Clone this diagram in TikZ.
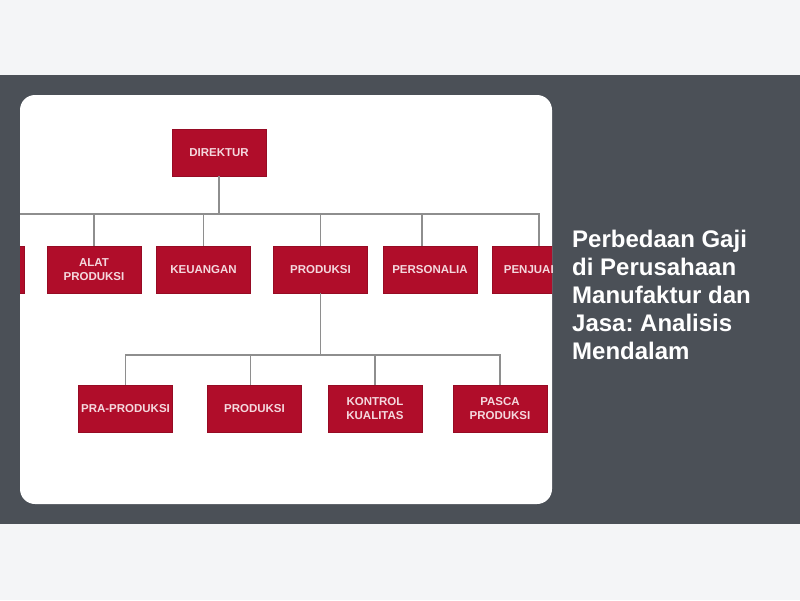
\documentclass[tikz,border=0pt]{standalone}
\usepackage{fontspec}
\setmainfont{Liberation Sans}
\usetikzlibrary{positioning}
\definecolor{pagebg}{HTML}{F4F5F7}
\definecolor{bandbg}{HTML}{4B5057}
\definecolor{boxred}{HTML}{B00D2A}
\definecolor{boxtext}{HTML}{F4D8DE}
\definecolor{linegray}{HTML}{8E8E8E}
\tikzstyle{redblock}=[rectangle, draw=boxred!85!black, fill=boxred, text=boxtext, align=center, inner sep=0pt, minimum width=94pt, minimum height=47pt, font=\fontsize{11.5}{14}\selectfont\bfseries]
\tikzstyle{orgline}=[draw=linegray, line width=1.4pt]
\tikzstyle{titletext}=[text=white, align=left, inner sep=0pt, font=\fontsize{24}{28}\selectfont\bfseries]

\begin{document}
\frenchspacing
\begin{tikzpicture}[x=1pt, y=-1pt]

\useasboundingbox (0,0) rectangle (800,600);
\fill[pagebg] (0,0) rectangle (800,600);
\fill[bandbg] (0,75) rectangle (800,524);
\fill[white, rounded corners=15pt] (20,95) rectangle (552,504);

\begin{scope}
\clip[rounded corners=15pt] (20,95) rectangle (552,504);

\node[redblock] (dir) at (219,152.5) {DIREKTUR};
\node[redblock] (cut) at (-23,269.5) {};
\node[redblock] (alat) at (94,269.5) {ALAT\\PRODUKSI};
\node[redblock] (keu) at (203.5,269.5) {KEUANGAN};
\node[redblock] (prod) at (320.5,269.5) {PRODUKSI};
\node[redblock] (pers) at (430,269.5) {PERSONALIA};
\node[redblock] (jual) at (539,269.5) {PENJUALAN};

\node[redblock] (pra) at (125.5,408.5) {PRA-PRODUKSI};
\node[redblock] (prod2) at (254.5,408.5) {PRODUKSI};
\node[redblock] (kontrol) at (375,408.5) {KONTROL\\KUALITAS};
\node[redblock] (pasca) at (500,408.5) {PASCA\\PRODUKSI};

\coordinate (bus1) at (219,214);
\coordinate (bus2) at (320.5,355);

\draw[orgline] (dir.south) -- (bus1);
\draw[orgline] (cut.north) |- (bus1);
\draw[orgline] (alat.north) |- (bus1);
\draw[orgline] (keu.north) |- (bus1);
\draw[orgline] (prod.north) |- (bus1);
\draw[orgline] ([xshift=-8pt]pers.north) |- (bus1);
\draw[orgline] (jual.north) |- (bus1);

\draw[orgline] (prod.south) -- (bus2);
\draw[orgline] (pra.north) |- (bus2);
\draw[orgline] ([xshift=-4pt]prod2.north) |- (bus2);
\draw[orgline] (kontrol.north) |- (bus2);
\draw[orgline] (pasca.north) |- (bus2);
\end{scope}

\node[titletext, anchor=north west] (title) at (572,229.5) {Perbedaan Gaji\\di Perusahaan\\Manufaktur dan\\Jasa: Analisis\\Mendalam};

\end{tikzpicture}
\end{document}
